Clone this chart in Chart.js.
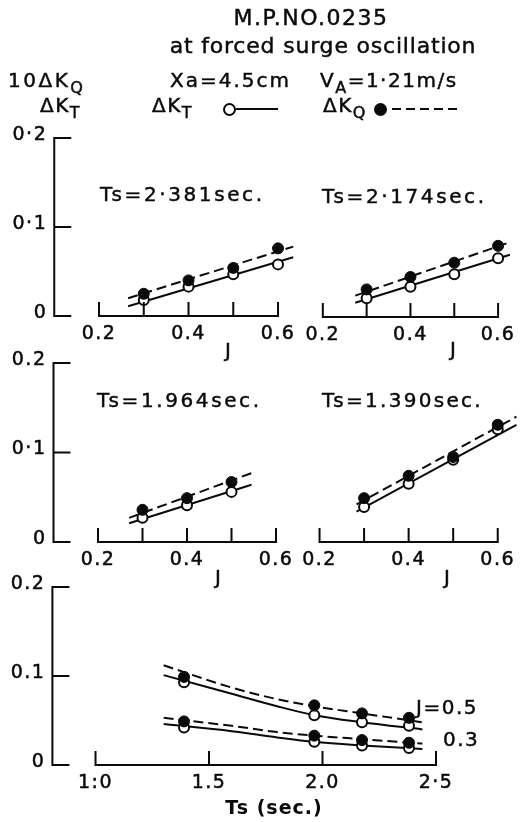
<!DOCTYPE html>
<html>
<head>
<meta charset="utf-8">
<script src="https://cdn.jsdelivr.net/npm/chart.js@4.4.1/dist/chart.umd.min.js"></script>
<style>
html, body { margin: 0; padding: 0; background: #fff; }
#page { position: relative; width: 527px; height: 822px; overflow: hidden; font-family: "DejaVu Sans", sans-serif; color: #0a0a0a; }
#page canvas { position: absolute; left: 0; top: 0; }
.t { position: absolute; white-space: nowrap; line-height: 1; -webkit-text-stroke: 0.45px #0a0a0a; }
.c { transform: translate(-50%, -50%); }
.m { transform: translateY(-50%); }
sub { font-size: 0.8em; vertical-align: -0.38em; line-height: 0; }
.open { position: absolute; width: 9px; height: 9px; border: 2px solid #0a0a0a; border-radius: 50%; background: #fff; }
.fill { position: absolute; width: 13px; height: 13px; border-radius: 50%; background: #0a0a0a; }
.solid { position: absolute; height: 2px; background: #0a0a0a; }
.dash { position: absolute; height: 2px; background: repeating-linear-gradient(90deg, #0a0a0a 0 9px, transparent 9px 14px); }
</style>
</head>
<body>
<div id="page">
  <canvas id="p1" width="527" height="822"></canvas>
  <canvas id="p2" width="527" height="822"></canvas>
  <canvas id="p3" width="527" height="822"></canvas>
  <canvas id="p4" width="527" height="822"></canvas>
  <canvas id="p5" width="527" height="822"></canvas>

  <div class="t c" style="left:311px;top:18px;font-size:22px;letter-spacing:1.5px">M.P.NO.0235</div>
  <div class="t c" style="left:323px;top:46px;font-size:22px;letter-spacing:0.8px">at forced surge oscillation</div>

  <div class="t m" style="left:8px;top:80px;font-size:20px;letter-spacing:2.5px">10ΔK<sub>Q</sub></div>
  <div class="t m" style="left:40px;top:105px;font-size:20px;letter-spacing:1.5px">ΔK<sub>T</sub></div>
  <div class="t m" style="left:170px;top:80px;font-size:20px;letter-spacing:2px">Xa=4.5cm</div>
  <div class="t m" style="left:320px;top:80px;font-size:20px;letter-spacing:1.5px">V<sub>A</sub>=1·21m/s</div>

  <div class="t m" style="left:152px;top:105px;font-size:20px;letter-spacing:1.5px">ΔK<sub>T</sub></div>
  <div class="open" style="left:223px;top:103px"></div>
  <div class="solid" style="left:236px;top:108px;width:42px"></div>
  <div class="t m" style="left:323px;top:105px;font-size:20px;letter-spacing:1.5px">ΔK<sub>Q</sub></div>
  <div class="fill" style="left:374px;top:103px"></div>
  <div class="dash" style="left:392px;top:108px;width:66px"></div>

  <div class="t m" style="left:100px;top:194px;font-size:20px;letter-spacing:2.6px">Ts=2·381sec.</div>
  <div class="t m" style="left:322px;top:196px;font-size:20px;letter-spacing:2.6px">Ts=2·174sec.</div>
  <div class="t m" style="left:97px;top:400px;font-size:20px;letter-spacing:2.6px">Ts=1.964sec.</div>
  <div class="t m" style="left:322px;top:400px;font-size:20px;letter-spacing:2.3px">Ts=1.390sec.</div>

  <div class="t c" style="left:228px;top:350px;font-size:20px">J</div>
  <div class="t c" style="left:453px;top:349px;font-size:20px">J</div>
  <div class="t c" style="left:218px;top:577px;font-size:20px">J</div>
  <div class="t c" style="left:447px;top:577px;font-size:20px">J</div>

  <div class="t m" style="left:416px;top:707px;font-size:20px;letter-spacing:1.5px">J=0.5</div>
  <div class="t m" style="left:443px;top:739px;font-size:20px;letter-spacing:1.5px">0.3</div>
  <div class="t c" style="left:274px;top:807px;font-size:19px;font-weight:bold;letter-spacing:1px;-webkit-text-stroke:0">Ts (sec.)</div>
</div>

<script>
// values (dimensionless coefficients)
const ink = '#0a0a0a';

// Ts = 2.381 sec
const j2381 = [0.3, 0.4, 0.5, 0.6];
const kt2381 = [0.018, 0.033, 0.047, 0.058];
const kq2381 = [0.025, 0.040, 0.054, 0.076];
const fitJ2381 = [0.265, 0.634];
const fitKT2381 = [0.011, 0.066];
const fitKQ2381 = [0.020, 0.078];

// Ts = 2.174 sec
const j2174 = [0.3, 0.4, 0.5, 0.6];
const kt2174 = [0.021, 0.034, 0.048, 0.066];
const kq2174 = [0.031, 0.045, 0.061, 0.080];
const fitJ2174 = [0.274, 0.627];
const fitKT2174 = [0.016, 0.070];
const fitKQ2174 = [0.024, 0.084];

// Ts = 1.964 sec
const j1964 = [0.3, 0.4, 0.5];
const kt1964 = [0.027, 0.041, 0.056];
const kq1964 = [0.036, 0.049, 0.067];
const fitJ1964 = [0.27, 0.545];
const fitKT1964 = [0.021, 0.064];
const fitKQ1964 = [0.027, 0.077];

// Ts = 1.390 sec
const j1390 = [0.3, 0.4, 0.5, 0.6];
const kt1390 = [0.039, 0.065, 0.092, 0.126];
const kq1390 = [0.049, 0.074, 0.095, 0.131];
const fitJ1390 = [0.283, 0.642];
const fitKT1390 = [0.034, 0.131];
const fitKQ1390 = [0.042, 0.140];

// bottom panel: against Ts
const tsValues = [1.39, 1.964, 2.174, 2.381];
const ktJ05 = [0.093, 0.056, 0.048, 0.044];
const kqJ05 = [0.099, 0.067, 0.058, 0.053];
const ktJ03 = [0.042, 0.026, 0.022, 0.019];
const kqJ03 = [0.049, 0.033, 0.028, 0.025];
const curveTs = [1.30, 1.60, 1.80, 1.964, 2.174, 2.44];
const curveKQJ05 = [0.112, 0.087, 0.074, 0.066, 0.058, 0.048];
const curveKTJ05 = [0.101, 0.080, 0.066, 0.056, 0.048, 0.040];
const curveKQJ03 = [0.053, 0.044, 0.037, 0.033, 0.029, 0.024];
const curveKTJ03 = [0.046, 0.038, 0.031, 0.026, 0.022, 0.018];

// axis ticks and labels
const jTicks = [0.2, 0.3, 0.4, 0.5, 0.6];
const jLabelVals = [0.2, 0.4, 0.6];
const jLabels = ['0.2', '0.4', '0.6'];
const tsTicks = [1.0, 1.5, 2.0, 2.5];
const tsLabels = ['1:0', '1.5', '2.0', '2·5'];
const yTicks = [0, 0.1, 0.2];
const yLabelsTop = ['0', '0·1', '0·2'];
const yLabelsMid = ['0', '0·1', '0.2'];
const yLabelsBot = ['0', '0.1', '0.2'];

const pts = (xs, ys) => xs.map((x, i) => ({ x: x, y: ys[i] }));

// draws the hand-lettered style axes: inward ticks, baseline only over the tick range
const paperAxes = {
    id: 'paperAxes',
    afterDraw(chart, args, opts) {
        const ctx = chart.ctx;
        const xs = chart.scales.x;
        const ys = chart.scales.y;
        const y0 = ys.getPixelForValue(0);
        ctx.save();
        ctx.strokeStyle = ink;
        ctx.fillStyle = ink;
        ctx.lineWidth = 2;
        ctx.beginPath();
        const xt = opts.xTicks;
        ctx.moveTo(xs.getPixelForValue(xt[0]) - 1, y0);
        ctx.lineTo(xs.getPixelForValue(xt[xt.length - 1]) + 1, y0);
        xt.forEach(v => {
            const px = xs.getPixelForValue(v);
            ctx.moveTo(px, y0);
            ctx.lineTo(px, y0 - 14);
        });
        ctx.stroke();

        const label = (txt, x, y) => {
            ctx.fillText(txt, x, y);
            ctx.strokeText(txt, x, y);
        };
        ctx.font = '19px "DejaVu Sans"';
        if ('letterSpacing' in ctx) ctx.letterSpacing = '1.5px';
        ctx.lineWidth = 0.5;
        ctx.textAlign = 'center';
        ctx.textBaseline = 'middle';
        opts.xLabelVals.forEach((v, i) => {
            label(opts.xLabels[i], xs.getPixelForValue(v), y0 + 18);
        });

        if (opts.yAxis) {
            const left = chart.chartArea.left;
            const yTop = ys.getPixelForValue(0.2);
            ctx.lineWidth = 2;
            ctx.beginPath();
            ctx.moveTo(left, yTop - 1);
            ctx.lineTo(left, y0 + 1);
            opts.yTicks.forEach(v => {
                const py = ys.getPixelForValue(v);
                ctx.moveTo(left - 1, py);
                ctx.lineTo(left + 17, py);
            });
            ctx.stroke();
            ctx.lineWidth = 0.5;
            ctx.textAlign = 'right';
            opts.yTicks.forEach((v, i) => {
                label(opts.yLabels[i], left - 7, ys.getPixelForValue(v) - 3);
            });
        }
        ctx.restore();
    }
};

function filledSet(data) {
    return { data: data, showLine: false, pointRadius: 5.5, pointBackgroundColor: ink, pointBorderColor: ink, pointBorderWidth: 1, order: 0, clip: false };
}
function openSet(data) {
    return { data: data, showLine: false, pointRadius: 5, pointBackgroundColor: '#fff', pointBorderColor: ink, pointBorderWidth: 2, order: 1, clip: false };
}
function lineSet(data, dashed, curved) {
    return {
        data: data, showLine: true, pointRadius: 0, borderColor: ink, borderWidth: 2,
        borderDash: dashed ? [10, 5] : [], cubicInterpolationMode: curved ? 'monotone' : 'default',
        order: 2, clip: false
    };
}

// frame: pixel box of the plot area on the 527x822 page
function makeChart(id, frame, datasets, axes) {
    new Chart(document.getElementById(id), {
        type: 'scatter',
        data: { datasets: datasets },
        options: {
            responsive: false,
            animation: false,
            events: [],
            layout: { padding: { left: frame.left, right: 527 - frame.right, top: frame.top, bottom: 822 - frame.bottom } },
            scales: {
                x: { type: 'linear', display: false, min: frame.xMin, max: frame.xMax },
                y: { type: 'linear', display: false, min: 0, max: 0.2 }
            },
            plugins: { legend: { display: false }, tooltip: { enabled: false }, paperAxes: axes }
        },
        plugins: [paperAxes]
    });
}

function jPanel(id, frame, js, kt, kq, fitJ, fitKT, fitKQ, yAxis, yLabels) {
    makeChart(id, frame, [
        filledSet(pts(js, kq)),
        openSet(pts(js, kt)),
        lineSet(pts(fitJ, fitKT), false, false),
        lineSet(pts(fitJ, fitKQ), true, false)
    ], { xTicks: jTicks, xLabelVals: jLabelVals, xLabels: jLabels, yAxis: yAxis, yTicks: yTicks, yLabels: yLabels });
}

jPanel('p1', { left: 54.25, right: 300.4, top: 138, bottom: 316, xMin: 0.1, xMax: 0.65 },
    j2381, kt2381, kq2381, fitJ2381, fitKT2381, fitKQ2381, true, yLabelsTop);
jPanel('p2', { left: 279, right: 526.5, top: 139, bottom: 317, xMin: 0.1, xMax: 0.65 },
    j2174, kt2174, kq2174, fitJ2174, fitKT2174, fitKQ2174, false, yLabelsTop);
jPanel('p3', { left: 53.5, right: 298.25, top: 363, bottom: 542, xMin: 0.1, xMax: 0.65 },
    j1964, kt1964, kq1964, fitJ1964, fitKT1964, fitKQ1964, true, yLabelsMid);
jPanel('p4', { left: 275, right: 522.5, top: 363, bottom: 542, xMin: 0.1, xMax: 0.65 },
    j1390, kt1390, kq1390, fitJ1390, fitKT1390, fitKQ1390, false, yLabelsMid);

makeChart('p5', { left: 52.4, right: 458.7, top: 587, bottom: 765, xMin: 0.81, xMax: 2.6 }, [
    filledSet(pts(tsValues, kqJ05)),
    filledSet(pts(tsValues, kqJ03)),
    openSet(pts(tsValues, ktJ05)),
    openSet(pts(tsValues, ktJ03)),
    lineSet(pts(curveTs, curveKTJ05), false, true),
    lineSet(pts(curveTs, curveKQJ05), true, true),
    lineSet(pts(curveTs, curveKTJ03), false, true),
    lineSet(pts(curveTs, curveKQJ03), true, true)
], { xTicks: tsTicks, xLabelVals: tsTicks, xLabels: tsLabels, yAxis: true, yTicks: yTicks, yLabels: yLabelsBot });
</script>
</body>
</html>
